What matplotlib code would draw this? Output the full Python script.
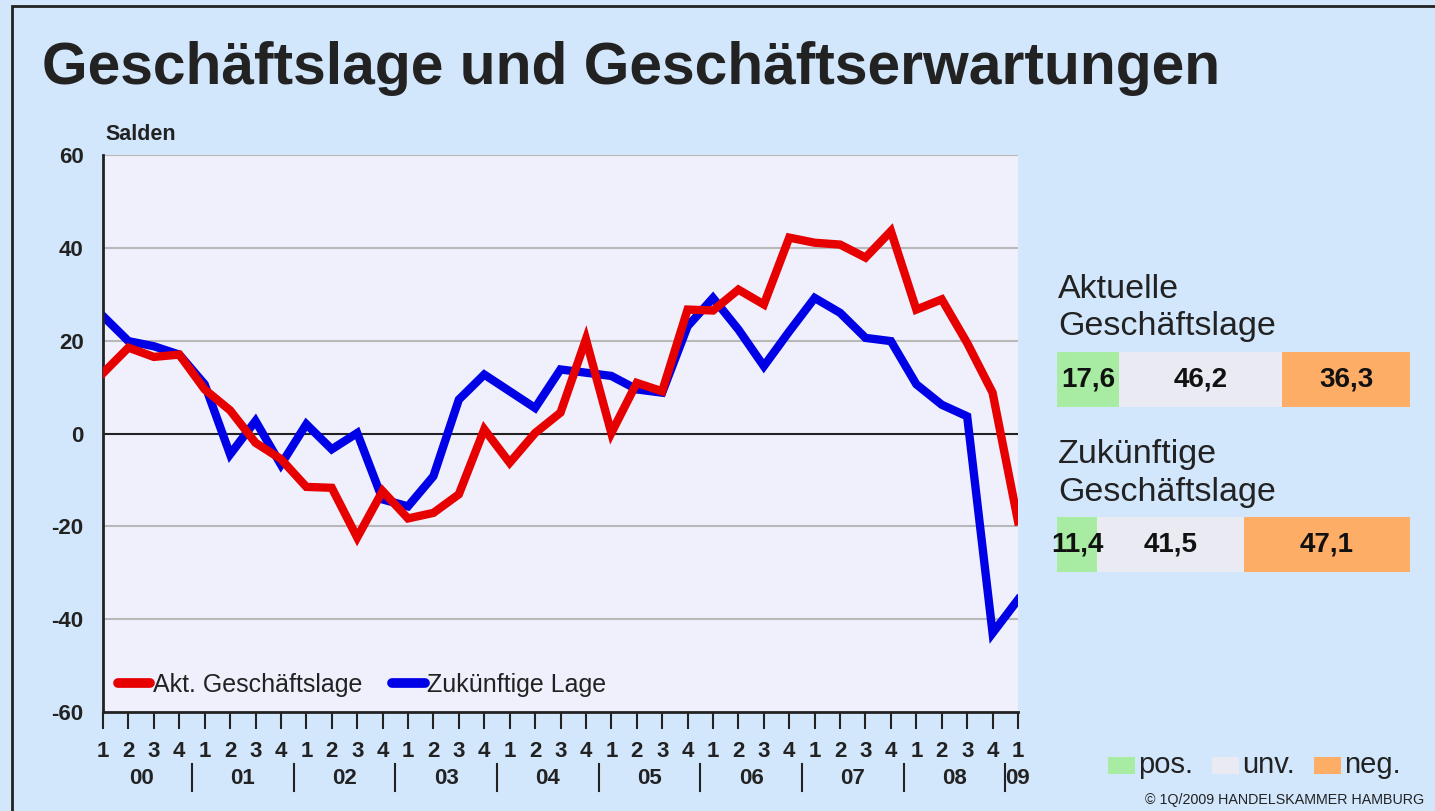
import numpy as np
import matplotlib.pyplot as plt
from matplotlib.lines import Line2D
from matplotlib.patches import Rectangle

plt.rcParams['font.family'] = ['Liberation Sans', 'DejaVu Sans']
plt.rcParams['axes.unicode_minus'] = False

# Quarterly balances 2000 Q1 .. 2009 Q1
quarters = ['1', '2', '3', '4'] * 9 + ['1']
years = ['00', '01', '02', '03', '04', '05', '06', '07', '08', '09']
aktuelle = [13, 18.5, 16.5, 17, 9.5, 5, -2, -5.5, -11.5, -11.7, -22.4, -12.4, -18.3,
            -17.1, -13.1, 0.9, -6.3, 0.1, 4.5, 20.3, 0.1, 10.9, 9.1, 26.7, 26.5,
            31, 27.8, 42.2, 41.1, 40.7, 37.9, 43.6, 26.7, 28.9, 19.5, 8.8, -18.9]
zukuenftige = [25.3, 19.9, 18.8, 17, 10.6, -4.5, 2.7, -6.7, 2, -3.4, 0.1, -14.2, -15.7,
               -9.2, 7.3, 12.7, 9.1, 5.5, 13.8, 13.1, 12.4, 9.5, 8.8, 23.1, 29.2,
               22.4, 14.5, 22, 29.2, 26, 20.6, 19.9, 10.6, 6.2, 3.7, -43, -35.8]

# Current shares (pos., unv., neg.)
anteil_labels = ['pos.', 'unv.', 'neg.']
anteil_aktuell = [17.6, 46.2, 36.3]
anteil_zukunft = [11.4, 41.5, 47.1]
anteil_colors = ['#A8EBA2', '#E9EAF2', '#FDAD66']

W, H = 1435, 811
fig = plt.figure(figsize=(W / 100, H / 100), dpi=100, facecolor='#D2E6FC')

# frame around the picture
fig.patches.append(Rectangle((12 / W, -0.1), 1.2, (H - 6) / H + 0.1, transform=fig.transFigure,
                             fill=False, edgecolor='#222222', linewidth=2))

fig.text(42 / W, 1 - 68 / H, 'Geschäftslage und Geschäftserwartungen', fontsize=42.3,
         fontweight='bold', color='#222222', va='center', ha='left')

# main chart
ax = fig.add_axes([103 / W, 1 - 712 / H, 915 / W, 557 / H])
ax.set_facecolor('#EFF0FC')
x = np.arange(len(aktuelle))
ax.plot(x, aktuelle, color='#E60000', lw=6, solid_joinstyle='miter', zorder=3)
ax.plot(x, zukuenftige, color='#0000E6', lw=6, solid_joinstyle='miter', zorder=2)
ax.set_xlim(0, len(x) - 1)
ax.set_ylim(-60, 60)
ax.set_yticks(range(-60, 61, 20))
for v in [-40, -20, 20, 40, 60]:
    ax.axhline(v, color='#B8B8B8', lw=1.5, zorder=1)
ax.axhline(0, color='#222222', lw=1.5, zorder=1)
for s in ['right', 'top']:
    ax.spines[s].set_visible(False)
for s in ['left', 'bottom']:
    ax.spines[s].set_linewidth(2)
    ax.spines[s].set_color('#222222')
ax.tick_params(axis='y', length=0, pad=14)
for lab in ax.get_yticklabels():
    lab.set_fontweight('bold')
    lab.set_fontsize(16)
    lab.set_color('#222222')
ax.set_xticks(x)
ax.set_xticklabels(quarters, fontweight='bold', fontsize=16, color='#222222')
ax.tick_params(axis='x', length=12, width=1.5, pad=9, color='#222222')

trans = ax.get_xaxis_transform()
for i, yr in enumerate(years):
    xc = 4 * i + 1.5 if i < 9 else 36
    ax.text(xc, -0.1185, yr, transform=trans, ha='center', va='center',
            fontweight='bold', fontsize=16, color='#222222', clip_on=False)
    if i > 0:
        ax.plot([4 * i - 0.5, 4 * i - 0.5], [-0.093, -0.142], transform=trans, color='#222222',
                lw=1.5, clip_on=False)

fig.text(105 / W, 1 - 135 / H, 'Salden', fontsize=15.5, fontweight='bold', va='center',
         ha='left', color='#222222')

handles = [Line2D([], [], color='#E60000', lw=7, solid_capstyle='round'),
           Line2D([], [], color='#0000E6', lw=7, solid_capstyle='round')]
ax.legend(handles, ['Akt. Geschäftslage', 'Zukünftige Lage'], loc='center left',
          bbox_to_anchor=(0.016, 0.049), ncol=2, frameon=False, fontsize=18,
          handlelength=1.3, handletextpad=0.1, columnspacing=1.2, borderpad=0, borderaxespad=0,
          labelcolor='#222222')

# right panel: share bars
def share_bar(top_px, title1, title2, values):
    fig.text(1058 / W, 1 - (top_px - 63) / H, title1, fontsize=24.5, va='center', ha='left',
             color='#222222')
    fig.text(1058 / W, 1 - (top_px - 25) / H, title2, fontsize=24.5, va='center', ha='left',
             color='#222222')
    bax = fig.add_axes([1057 / W, 1 - (top_px + 55) / H, 353 / W, 55 / H])
    left = 0
    for v, c in zip(values, anteil_colors):
        bax.barh(0, v, left=left, height=1, color=c, edgecolor='none')
        bax.text(left + v / 2, 0, f'{v:.1f}'.replace('.', ','), ha='center', va='center',
                 fontsize=20, fontweight='bold', color='#111111')
        left += v
    bax.set_xlim(0, sum(values))
    bax.set_ylim(-0.5, 0.5)
    bax.axis('off')

share_bar(352, 'Aktuelle', 'Geschäftslage', anteil_aktuell)
share_bar(517, 'Zukünftige', 'Geschäftslage', anteil_zukunft)

# legend for shares
for lab, c, xp in zip(anteil_labels, anteil_colors, [1108, 1212, 1314]):
    fig.patches.append(Rectangle((xp / W, 1 - 774 / H), 27 / W, 17 / H, transform=fig.transFigure,
                                 facecolor=c, edgecolor='none'))
    fig.text((xp + 30) / W, 1 - 765 / H, lab, fontsize=21, va='center', ha='left', color='#222222')

fig.text(1424 / W, 1 - 800 / H, '© 1Q/2009 HANDELSKAMMER HAMBURG', fontsize=10.3,
         va='center', ha='right', color='#222222')

fig.savefig('out.png', dpi=100, facecolor=fig.get_facecolor())
